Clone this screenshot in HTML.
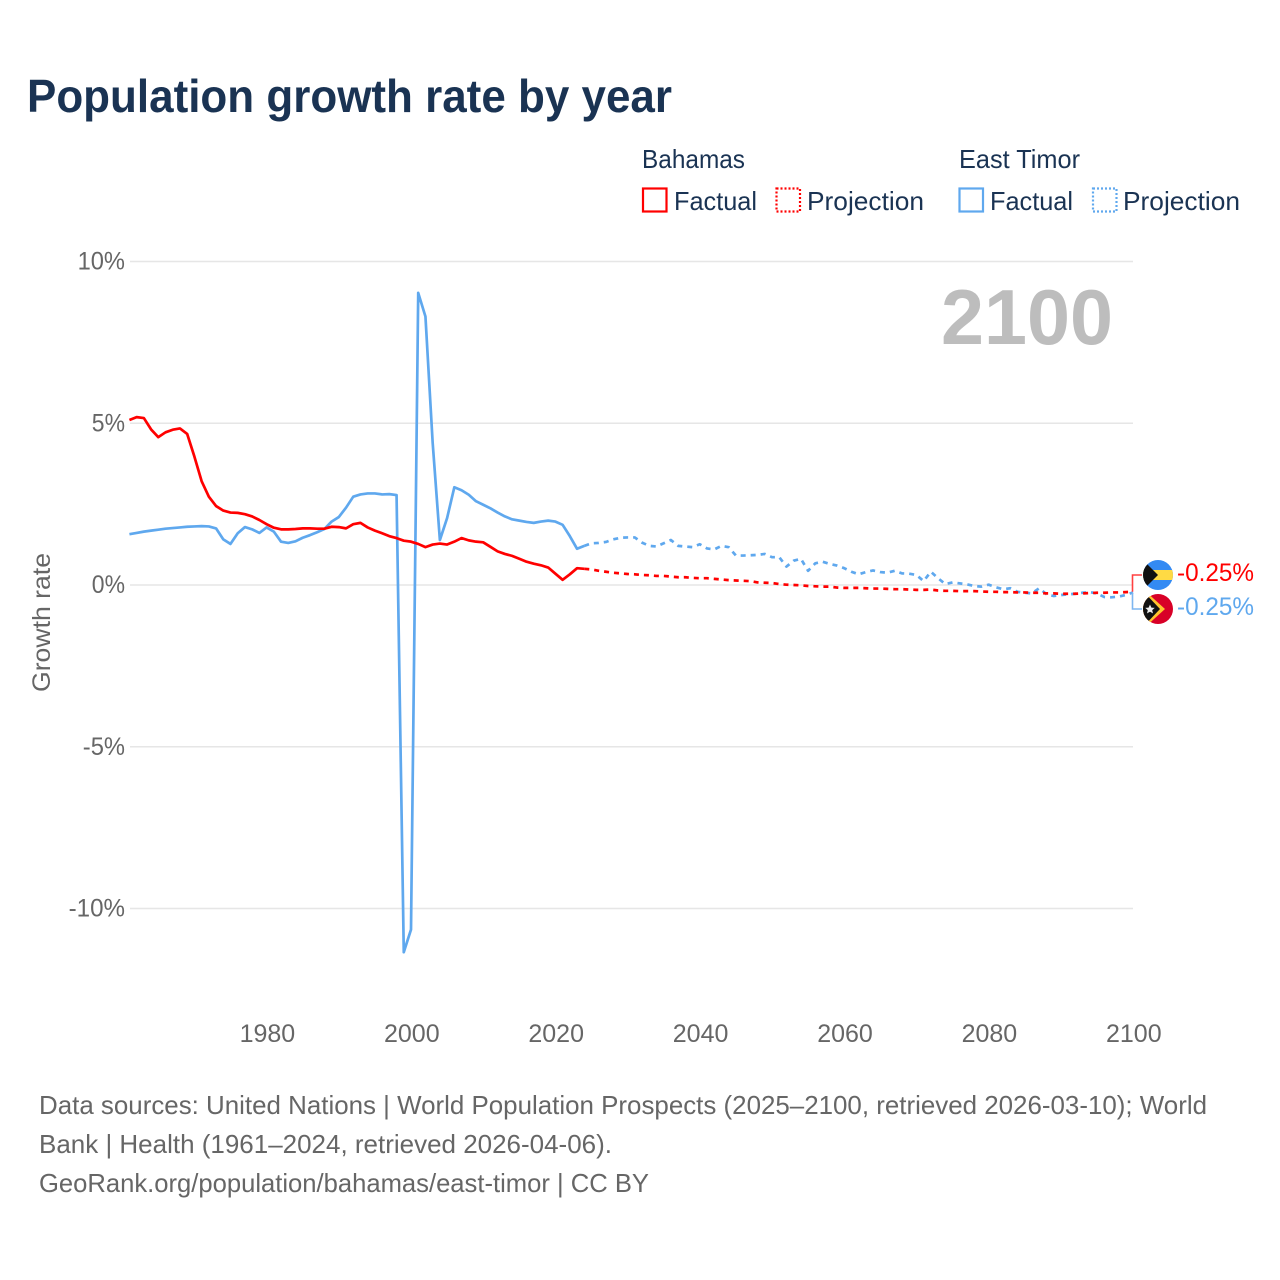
<!DOCTYPE html>
<html lang="en">
<head>
<meta charset="utf-8">
<title>Population growth rate by year</title>
<style>
html,body{margin:0;padding:0;background:#fff;}
svg{display:block;font-family:"Liberation Sans",sans-serif;}
</style>
</head>
<body>
<svg id="chart" xmlns="http://www.w3.org/2000/svg" width="1280" height="1280" viewBox="0 0 1280 1280">
  <defs>
    <clipPath id="clip-bs"><circle cx="1158" cy="575" r="15"/></clipPath>
    <clipPath id="clip-tl"><circle cx="1158" cy="609" r="15"/></clipPath>
  </defs>
  <rect x="0" y="0" width="1280" height="1280" fill="#fff"/>
  <text x="27" y="112" font-size="46" font-weight="700" fill="#1a3353" textLength="645" lengthAdjust="spacingAndGlyphs">Population growth rate by year</text>

  <g font-size="26" fill="#1a3353">
    <text x="642" y="168" textLength="103" lengthAdjust="spacingAndGlyphs">Bahamas</text>
    <rect x="643" y="188.5" width="23.5" height="23" fill="none" stroke="#ff0000" stroke-width="2.2"/>
    <text x="674" y="210" textLength="83" lengthAdjust="spacingAndGlyphs">Factual</text>
    <rect x="776.5" y="188.5" width="23.5" height="23" fill="none" stroke="#ff0000" stroke-width="2.2" stroke-dasharray="2 2"/>
    <text x="807" y="210" textLength="117" lengthAdjust="spacingAndGlyphs">Projection</text>
    <text x="959" y="168" textLength="121" lengthAdjust="spacingAndGlyphs">East Timor</text>
    <rect x="959.5" y="188.5" width="23.5" height="23" fill="none" stroke="#5fa8ee" stroke-width="2.2"/>
    <text x="990" y="210" textLength="83" lengthAdjust="spacingAndGlyphs">Factual</text>
    <rect x="1093" y="188.5" width="23.5" height="23" fill="none" stroke="#5fa8ee" stroke-width="2.2" stroke-dasharray="2 2"/>
    <text x="1123" y="210" textLength="117" lengthAdjust="spacingAndGlyphs">Projection</text>
  </g>

  <g id="grid"></g>
  <g id="yticks"></g>
  <g id="xticks"></g>
  <text transform="translate(50,692) rotate(-90)" font-size="25" fill="#666" textLength="139" lengthAdjust="spacingAndGlyphs">Growth rate</text>
  <text x="941" y="344" font-size="78" font-weight="700" fill="#bdbdbd" textLength="172" lengthAdjust="spacingAndGlyphs">2100</text>

  <g id="series"></g>

  <g fill="none" stroke-width="1.6">
    <polyline id="conn-tl" stroke="#7db6f0"/>
    <polyline id="conn-bs" stroke="#ff4040"/>
  </g>

  <g clip-path="url(#clip-bs)">
    <rect x="1143" y="560" width="30" height="30" fill="#338af3"/>
    <rect x="1143" y="570" width="30" height="10" fill="#ffda44"/>
    <polygon points="1143,560 1158,575 1143,590" fill="#111"/>
  </g>
  <g clip-path="url(#clip-tl)">
    <rect x="1143" y="594" width="30" height="30" fill="#d80027"/>
    <polygon points="1143,589 1165,609 1143,629" fill="#ffc42e"/>
    <polygon points="1143,591 1160,609 1143,627" fill="#111"/>
    <polygon points="1150,604.5 1151.4,607.6 1154.7,607.9 1152.2,610.1 1153,613.4 1150,611.7 1147,613.4 1147.8,610.1 1145.3,607.9 1148.6,607.6" fill="#eee"/>
  </g>
  <text x="1177" y="581" font-size="25" fill="#ff0000" textLength="77" lengthAdjust="spacingAndGlyphs">-0.25%</text>
  <text x="1177" y="615" font-size="25" fill="#5fa8ee" textLength="77" lengthAdjust="spacingAndGlyphs">-0.25%</text>

  <g font-size="26" fill="#666">
    <text x="39" y="1114" textLength="1168" lengthAdjust="spacingAndGlyphs">Data sources: United Nations | World Population Prospects (2025–2100, retrieved 2026-03-10); World</text>
    <text x="39" y="1153" textLength="573" lengthAdjust="spacingAndGlyphs">Bank | Health (1961–2024, retrieved 2026-04-06).</text>
    <text x="39" y="1192" textLength="610" lengthAdjust="spacingAndGlyphs">GeoRank.org/population/bahamas/east-timor | CC BY</text>
  </g>
</svg>
<script>
const yTickValues = [10, 5, 0, -5, -10];
const yTickLabels = ["10%", "5%", "0%", "-5%", "-10%"];
const xTickYears = [1980, 2000, 2020, 2040, 2060, 2080, 2100];
const firstFactualYear = 1961;
const firstProjectionYear = 2025;
const bahamasFactual = [
  5.10,5.19,5.16,4.81,4.57,4.72,4.80,4.84,4.67,3.97,
  3.21,2.73,2.44,2.30,2.24,2.23,2.19,2.12,2.01,1.88,
  1.77,1.72,1.72,1.73,1.75,1.75,1.74,1.74,1.80,1.79,
  1.75,1.88,1.92,1.78,1.68,1.60,1.51,1.45,1.37,1.34,
  1.27,1.17,1.25,1.28,1.25,1.34,1.45,1.38,1.34,1.32,
  1.18,1.04,0.96,0.90,0.81,0.72,0.66,0.61,0.54,0.35,
  0.16,0.33,0.52,0.50
];
const bahamasProjection = [
  0.48,0.44,0.41,0.38,0.36,0.34,0.33,0.31,0.30,0.28,
  0.28,0.26,0.24,0.24,0.22,0.21,0.21,0.19,0.17,0.15,
  0.14,0.13,0.12,0.08,0.07,0.06,0.03,0.01,0.00,-0.01,
  -0.03,-0.04,-0.05,-0.05,-0.08,-0.09,-0.09,-0.09,-0.10,-0.11,
  -0.11,-0.12,-0.13,-0.13,-0.14,-0.15,-0.15,-0.14,-0.17,-0.18,
  -0.18,-0.19,-0.19,-0.19,-0.20,-0.21,-0.21,-0.22,-0.22,-0.23,
  -0.23,-0.24,-0.24,-0.26,-0.26,-0.27,-0.27,-0.27,-0.26,-0.25,
  -0.24,-0.24,-0.23,-0.23,-0.22,-0.21
];
const eastTimorFactual = [
  1.57,1.61,1.65,1.68,1.71,1.74,1.76,1.78,1.80,1.81,
  1.82,1.81,1.75,1.41,1.27,1.60,1.79,1.72,1.61,1.78,
  1.65,1.34,1.30,1.35,1.46,1.54,1.63,1.73,1.96,2.10,
  2.39,2.73,2.80,2.83,2.83,2.80,2.81,2.78,-11.35,-10.65,
  9.03,8.30,4.40,1.39,2.07,3.02,2.93,2.79,2.59,2.48,
  2.37,2.24,2.12,2.03,1.99,1.95,1.92,1.96,1.99,1.96,
  1.86,1.51,1.12,1.21
];
const eastTimorProjection = [
  1.29,1.30,1.33,1.41,1.46,1.47,1.47,1.31,1.21,1.19,
  1.29,1.39,1.21,1.19,1.17,1.26,1.13,1.10,1.21,1.17,
  0.91,0.91,0.92,0.93,0.96,0.86,0.86,0.57,0.75,0.81,
  0.44,0.67,0.72,0.65,0.60,0.52,0.41,0.33,0.40,0.45,
  0.40,0.38,0.44,0.36,0.35,0.31,0.12,0.41,0.21,0.03,
  0.08,0.05,0.02,-0.03,-0.05,0.01,-0.07,-0.13,-0.10,-0.21,
  -0.24,-0.26,-0.10,-0.28,-0.34,-0.31,-0.29,-0.27,-0.24,-0.22,
  -0.26,-0.37,-0.38,-0.36,-0.31,-0.23
];

const NS = "http://www.w3.org/2000/svg";
function xScale(year) { return 1133 + (year - 2100) * 7.22; }
function yScale(value) { return 585 - value * 32.35; }
function labelWidth(s) {
  let w = 0;
  for (const c of s) { w += c === "%" ? 19 : c === "-" ? 9 : 14.2; }
  return w;
}
function pointsFrom(startYear, values) {
  return values.map(function (v, i) {
    return xScale(startYear + i).toFixed(2) + "," + yScale(v).toFixed(2);
  }).join(" ");
}
const gridG = document.getElementById("grid");
const yG = document.getElementById("yticks");
yTickValues.forEach(function (v, i) {
  const ln = document.createElementNS(NS, "line");
  
  
  ln.setAttribute("x1", 130);
  ln.setAttribute("x2", 1133);
  ln.setAttribute("y1", yScale(v));
  ln.setAttribute("y2", yScale(v));
  ln.setAttribute("stroke", "#e6e6e6");
  ln.setAttribute("stroke-width", "1.4");
  gridG.appendChild(ln);
  const t = document.createElementNS(NS, "text");
  
  
  const w = labelWidth(yTickLabels[i]);
  t.setAttribute("x", 125 - w);
  t.setAttribute("y", yScale(v) + 8);
  t.setAttribute("font-size", "25");
  t.setAttribute("fill", "#666");
  t.setAttribute("textLength", w);
  t.setAttribute("lengthAdjust", "spacingAndGlyphs");
  t.textContent = yTickLabels[i];
  yG.appendChild(t);
});
const xG = document.getElementById("xticks");
xTickYears.forEach(function (yr) {
  const t = document.createElementNS(NS, "text");
  
  
  t.setAttribute("x", xScale(yr) + 0.8);
  t.setAttribute("y", 1042);
  t.setAttribute("text-anchor", "middle");
  t.setAttribute("font-size", "25");
  t.setAttribute("fill", "#666");
  t.textContent = String(yr);
  xG.appendChild(t);
});
const seriesG = document.getElementById("series");
function addLine(startYear, values, color, dashed, name) {
  const p = document.createElementNS(NS, "polyline");
  
  
  p.setAttribute("points", pointsFrom(startYear, values));
  p.setAttribute("fill", "none");
  p.setAttribute("stroke", color);
  p.setAttribute("stroke-width", "2.7");
  p.setAttribute("stroke-linejoin", "round");
  if (dashed) { p.setAttribute("stroke-dasharray", "5 5"); }
  seriesG.appendChild(p);
}
const lastRed = bahamasFactual[bahamasFactual.length - 1];
const lastBlue = eastTimorFactual[eastTimorFactual.length - 1];
addLine(firstFactualYear, eastTimorFactual, "#5fa8ee", false, "line-east-timor-factual");
addLine(firstProjectionYear - 1, [lastBlue].concat(eastTimorProjection), "#5fa8ee", true, "line-east-timor-projection");
addLine(firstFactualYear, bahamasFactual, "#ff0000", false, "line-bahamas-factual");
addLine(firstProjectionYear - 1, [lastRed].concat(bahamasProjection), "#ff0000", true, "line-bahamas-projection");
const endRedY = yScale(bahamasProjection[bahamasProjection.length - 1]);
const endBlueY = yScale(eastTimorProjection[eastTimorProjection.length - 1]);
document.getElementById("conn-bs").setAttribute("points", "1132.5," + endRedY + " 1132.5,575 1142,575");
document.getElementById("conn-tl").setAttribute("points", "1132.5," + endBlueY + " 1132.5,609 1142,609");
</script>
</body>
</html>
